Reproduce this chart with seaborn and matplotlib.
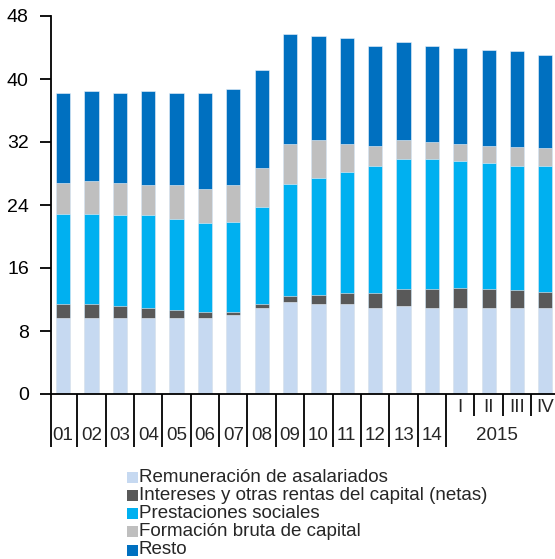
import matplotlib
matplotlib.use("Agg")
import matplotlib.pyplot as plt
import seaborn as sns
import numpy as np
from matplotlib.patches import Rectangle
from matplotlib.transforms import blended_transform_factory

# ---------------- data ----------------
categories = ["01", "02", "03", "04", "05", "06", "07", "08", "09", "10",
              "11", "12", "13", "14", "I", "II", "III", "IV"]
year_group_label = "2015"

remuneracion = [9.7, 9.7, 9.7, 9.7, 9.7, 9.7, 10.0, 10.9, 11.7, 11.4,
                11.4, 10.9, 11.2, 10.9, 10.9, 10.9, 10.9, 10.9]
intereses = [1.7, 1.7, 1.5, 1.2, 1.0, 0.7, 0.4, 0.5, 0.7, 1.2,
             1.4, 1.9, 2.1, 2.4, 2.6, 2.4, 2.3, 2.1]
prestaciones = [11.5, 11.5, 11.5, 11.8, 11.5, 11.3, 11.5, 12.4, 14.3, 14.8,
                15.4, 16.1, 16.5, 16.5, 16.1, 16.0, 15.8, 15.9]
formacion = [3.9, 4.1, 4.1, 3.8, 4.3, 4.3, 4.6, 4.9, 5.1, 4.9,
             3.6, 2.6, 2.5, 2.2, 2.2, 2.2, 2.4, 2.4]
resto = [11.4, 11.5, 11.4, 12.0, 11.7, 12.2, 12.2, 12.4, 13.9, 13.1,
         13.4, 12.7, 12.4, 12.2, 12.2, 12.2, 12.1, 11.8]

series_names = ["Remuneración de asalariados",
                "Intereses y otras rentas del capital (netas)",
                "Prestaciones sociales",
                "Formación bruta de capital",
                "Resto"]
series_values = [remuneracion, intereses, prestaciones, formacion, resto]
series_colors = ["#C6D9F1", "#595959", "#00B0F0", "#BFBFBF", "#0070C0"]

y_ticks = [0, 8, 16, 24, 32, 40, 48]

# ---------------- style ----------------
sns.set_style("white")
plt.rcParams["font.family"] = ["Liberation Sans", "DejaVu Sans"]

W, H = 555, 559
fig = plt.figure(figsize=(W / 100, H / 100), dpi=100)

ax_left, ax_top, ax_bottom = 51, 16, 394
ax = fig.add_axes([ax_left / W, (H - ax_bottom) / H, (W - ax_left) / W, (ax_bottom - ax_top) / H])

# stacked bars: draw cumulative totals from the top layer down
cum = np.cumsum(np.array(series_values), axis=0)
for i in range(len(series_values) - 1, -1, -1):
    sns.barplot(x=categories, y=cum[i], order=categories, color=series_colors[i],
                saturation=1, errorbar=None, width=0.5, ax=ax,
                edgecolor="#EEF3FA", linewidth=0.4)

x_left = -0.427
ax.set_xlim(x_left, 17.34)
ax.set_ylim(0, 48)
ax.set_yticks(y_ticks)
ax.set_yticklabels([str(t) for t in y_ticks], fontsize=14)
ax.set_xticks([])
ax.set_xlabel("")
ax.set_ylabel("")
ax.tick_params(axis="y", which="both", left=True, length=8, width=1.3,
               color="black", pad=8, labelcolor="black")
for s in ["top", "right"]:
    ax.spines[s].set_visible(False)
for s in ["left", "bottom"]:
    ax.spines[s].set_color("black")
    ax.spines[s].set_linewidth(1.3)
ax.spines["bottom"].set_zorder(5)

# category separators and labels below the axis
axis_h = ax_bottom - ax_top
def yfrac(ypx):
    return (ax_bottom - ypx) / axis_h

trans = blended_transform_factory(ax.transData, ax.transAxes)
n_years = 14
tall_bottom = yfrac(447)
short_bottom = yfrac(416)
ax.plot([x_left, x_left], [0, tall_bottom], transform=trans, color="black",
        lw=1.3, clip_on=False, solid_capstyle="butt")
for k in range(1, len(categories)):
    xb = k - 0.5
    yb = tall_bottom if k <= n_years else short_bottom
    ax.plot([xb, xb], [0, yb], transform=trans, color="black", lw=1.3,
            clip_on=False, solid_capstyle="butt")

for k, lab in enumerate(categories):
    if k < n_years:
        ax.text(k, yfrac(435), lab, transform=trans, ha="center", va="center",
                fontsize=13.5, clip_on=False)
    else:
        ax.text(k, yfrac(408), lab, transform=trans, ha="center", va="center",
                fontsize=13.5, clip_on=False)
ax.text((n_years + len(categories) - 1) / 2 - 0.2, yfrac(435), year_group_label,
        transform=trans, ha="center", va="center", fontsize=13.5, clip_on=False)

# legend (manual, stacked rows)
for i, (name, col) in enumerate(zip(series_names, series_colors)):
    yc = 477 + i * 18.25
    fig.patches.append(Rectangle((127 / W, (H - yc - 5.5) / H), 11 / W, 11 / H,
                                 transform=fig.transFigure, facecolor=col,
                                 edgecolor="none"))
    fig.text(139 / W, (H - yc) / H, name, ha="left", va="center", fontsize=13.5)

fig.savefig("out.png", dpi=100)
